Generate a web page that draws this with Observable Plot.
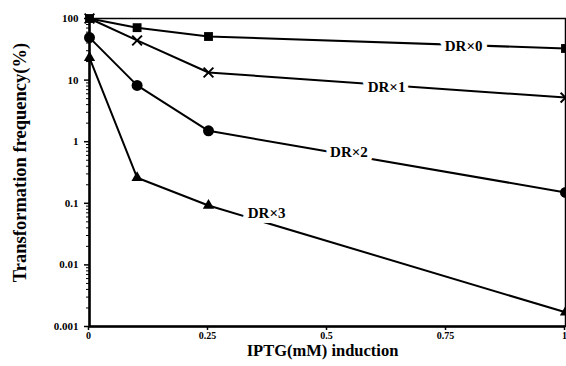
<!DOCTYPE html>
<html><head><meta charset="utf-8">
<script src="https://cdn.jsdelivr.net/npm/d3@7"></script>
<script src="https://cdn.jsdelivr.net/npm/@observablehq/plot@0.6"></script>
<style>body{margin:0;background:#fff}</style>
</head><body><div id="chart"></div>
<script>
const iptg = [0, 0.1, 0.25, 1];
const dr0 = [100, 71, 51, 32.6];
const dr1 = [100, 44, 13.3, 5.2];
const dr2 = [49, 8.2, 1.5, 0.15];
const dr3 = [23, 0.26, 0.092, 0.0017];
const seriesNames = ["DR×0", "DR×1", "DR×2", "DR×3"];
const seriesSymbols = ["square", "times", "circle", "triangle"];
const labelX = [0.786, 0.624, 0.545, 0.372];
const labelY = [36, 7.8, 0.68, 0.07];
const yTicks = [100, 10, 1, 0.1, 0.01, 0.001];
const yTickLabels = ["100", "10", "1", "0.1", "0.01", "0.001"];
const xTicks = [0, 0.25, 0.5, 0.75, 1];
const xTickLabels = ["0", "0.25", "0.5", "0.75", "1"];

const allSeries = [dr0, dr1, dr2, dr3];
const rows = [];
allSeries.forEach((vals, si) => vals.forEach((v, i) => rows.push({s: seriesNames[si], sym: seriesSymbols[si], x: iptg[i], y: v})));
const labels = seriesNames.map((n, i) => ({n, x: labelX[i], y: labelY[i]}));
const minor = d3.scaleLog().domain([0.001, 100]).ticks().filter(t => !yTicks.some(m => Math.abs(m - t) / t < 1e-9));
const bySym = (s) => rows.filter(d => d.sym === s);

const font = "'Liberation Serif', 'DejaVu Serif', serif";
const chart = Plot.plot({
  width: 566, height: 366,
  marginLeft: 89, marginRight: 1, marginTop: 18, marginBottom: 40,
  style: {fontFamily: font, fontWeight: "bold", fontSize: "11px", background: "white", color: "black"},
  x: {domain: [0, 1]},
  y: {type: "log", domain: [0.001, 100]},
  marks: [
    Plot.frame({stroke: "black", strokeWidth: 1.5}),
    Plot.axisY(minor, {tickSize: 3, text: null, label: null, strokeWidth: 1}),
    Plot.axisY(yTicks, {tickSize: 5, tickFormat: (d) => yTickLabels[yTicks.indexOf(d)], label: null, fontSize: 11, strokeWidth: 1.5, tickPadding: 6}),
    Plot.axisX(xTicks, {tickSize: 4, tickFormat: (d) => xTickLabels[xTicks.indexOf(d)], label: null, fontSize: 10, strokeWidth: 1.5, tickPadding: 1, dx: -1}),
    Plot.ruleX([0], {strokeWidth: 2.5}),
    Plot.ruleY([0.001], {strokeWidth: 2.5}),
    Plot.line(rows, {x: "x", y: "y", z: "s", stroke: "black", strokeWidth: 2}),
    Plot.text(labels, {x: "x", y: "y", text: "n", fill: "black", stroke: "white", strokeWidth: 10, fontSize: 15, fontWeight: "bold"}),
    Plot.dot(bySym("square"), {x: "x", y: "y", symbol: "square", fill: "black", r: 5}),
    Plot.dot(bySym("circle"), {x: "x", y: "y", symbol: "circle", fill: "black", r: 5.5}),
    Plot.dot(bySym("triangle"), {x: "x", y: "y", symbol: "triangle", fill: "black", r: 4.2}),
    Plot.dot(bySym("times"), {x: "x", y: "y", symbol: "times", stroke: "black", strokeWidth: 2, r: 4.5}),
    Plot.text(["Transformation frequency(%)"], {frameAnchor: "left", textAnchor: "middle", dx: -69, dy: -10, rotate: -90, fontSize: 18.5, fontWeight: "bold"}),
    Plot.text(["IPTG(mM) induction"], {frameAnchor: "bottom", dy: 29, dx: -5, fontSize: 16.5, fontWeight: "bold"})
  ]
});
document.getElementById("chart").appendChild(chart);
</script>
</body></html>
